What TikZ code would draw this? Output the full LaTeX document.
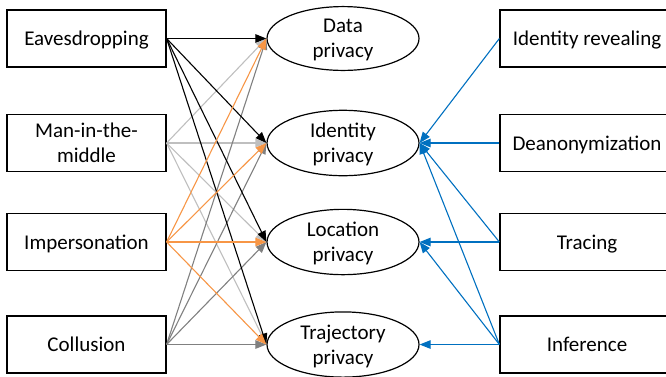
\documentclass[tikz,border=0pt]{standalone}
\usepackage{fontspec}
\setmainfont{Carlito}
\usetikzlibrary{arrows.meta,shapes.geometric}
\definecolor{lightgrey}{RGB}{191,191,191}
\definecolor{darkgrey}{RGB}{128,128,128}
\definecolor{attackorange}{RGB}{247,150,70}
\definecolor{linkblue}{RGB}{0,112,192}
\tikzset{
	threat/.style={rectangle,draw,line width=1.2pt,minimum height=57pt},
	oneline/.style={text height=18pt,text depth=4pt},
	privacy/.style={ellipse,draw,line width=1.2pt,minimum width=152pt,minimum height=63pt,align=center,text depth=0pt},
	link/.style={->,line width=1.1pt}
}
\begin{document}
\begin{tikzpicture}[x=1pt,y=-1pt,>={Triangle[length=11pt,width=8.5pt]},
		font=\fontsize{21}{25}\selectfont]
		\useasboundingbox (0,0) rectangle (666,376);
		\begin{scope}[every node/.style={threat,minimum width=159pt,align=center}]
			\node[oneline] (Eav) at (86.5,38.5) {Eavesdropping};
			\node (MitM) at (86.5,143) {Man-in-the-\\middle};
			\node[oneline] (Imp) at (86.5,242) {Impersonation};
			\node[oneline] (Col) at (86.5,344.5) {Collusion};
		\end{scope}
		
		\begin{scope}[every node/.style={privacy}]
			\node (Data) at (343,38.5) {Data\\privacy};
			\node (Iden) at (343,143) {Identity\\privacy};
			\node (Loc) at (343,242) {Location\\privacy};
			\node (Traj) at (343,344.5) {Trajectory\\privacy};
		\end{scope}
		
		\begin{scope}[every node/.style={threat,oneline,minimum width=174pt}]
			\node (Reveal) at (587,38.5) {Identity revealing};
			\node (Deanon) at (587,143) {Deanonymization};
			\node (Trace) at (587,242) {Tracing};
			\node (Infer) at (587,344.5) {Inference};
		\end{scope}
		
		\path [link,lightgrey] (MitM.east) edge (Data.west) edge (Iden.west) edge (Loc.west) edge (Traj.west);
		\path [link,darkgrey] (Col.east) edge (Data.west) edge (Iden.west) edge (Loc.west) edge (Traj.west);
		\path [link,black] (Eav.east) edge (Data.west) edge (Iden.west) edge (Loc.west) edge (Traj.west);
		\path [link,attackorange] (Imp.east) edge (Data.west) edge (Iden.west) edge (Loc.west) edge (Traj.west);
		
		\path [link,linkblue] (Reveal.west) edge (Iden.east);
		\path [link,linkblue] (Deanon.west) edge (Iden.east);
		\path [link,linkblue] (Trace.west) edge (Iden.east) edge (Loc.east);
		\path [link,linkblue] (Infer.west) edge (Iden.east) edge (Loc.east) edge (Traj.east);
\end{tikzpicture}
\end{document}
